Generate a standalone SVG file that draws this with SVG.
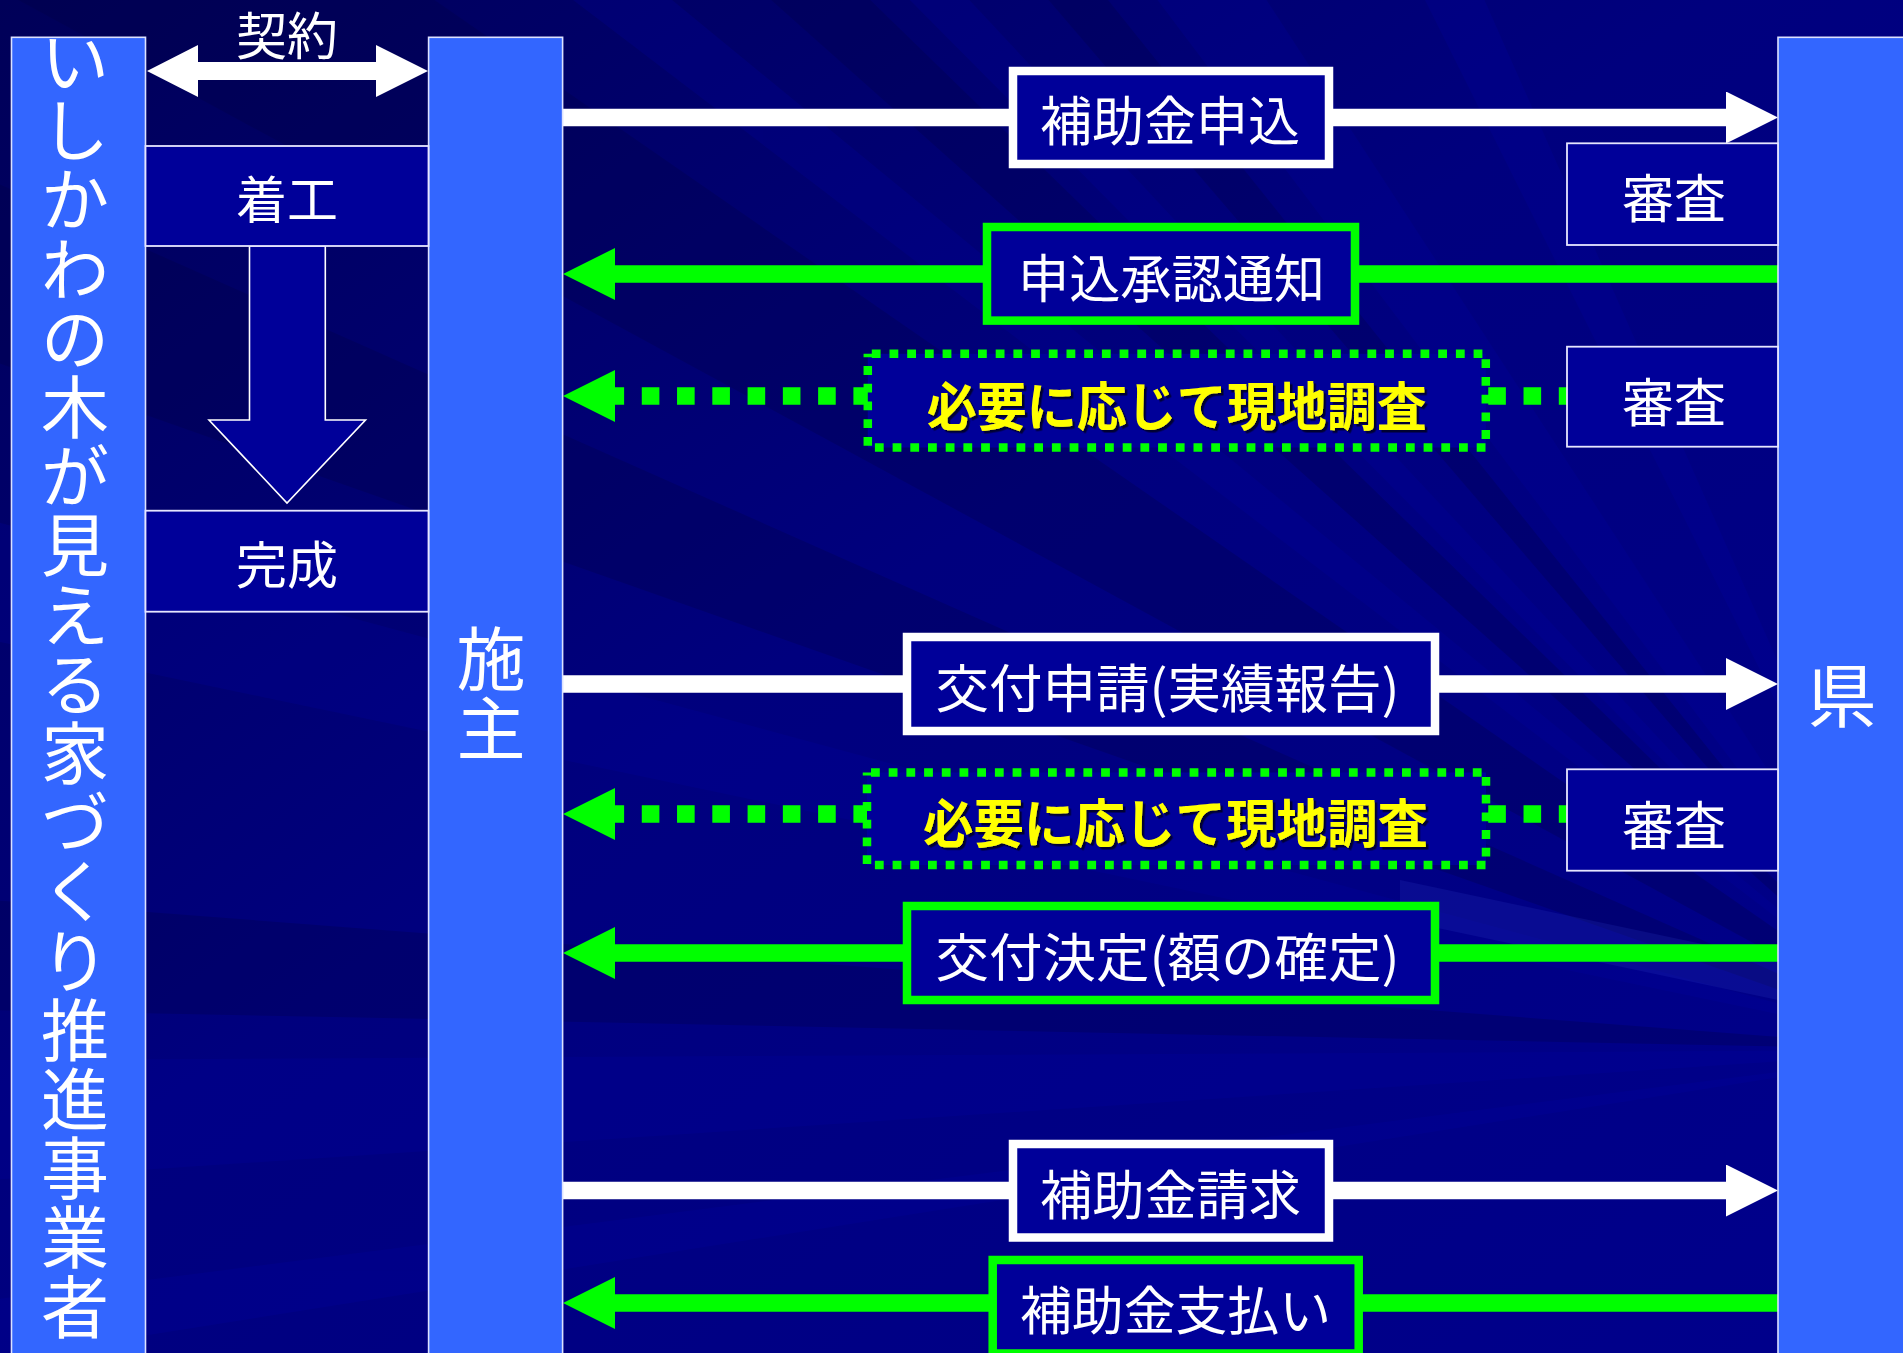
<svg xmlns="http://www.w3.org/2000/svg" width="1903" height="1353" viewBox="0 0 1903 1353">
<style>
.t{font-family:"Noto Sans CJK JP","Noto Sans",sans-serif;fill:#ffffff;text-anchor:middle}
.y{font-family:"Noto Sans CJK JP","Noto Sans",sans-serif;fill:#ffff00;font-weight:bold;text-anchor:middle;filter:url(#sh)}
.col{fill:#3366ff;stroke:#dce2ff;stroke-width:1.6}
.step{fill:#000099;stroke:#e6e6ff;stroke-width:1.8}
.lw{fill:#000099;stroke:#ffffff;stroke-width:8.5}
.lg{fill:#000099;stroke:#00ff00;stroke-width:8.5}
.ld{fill:#000099;stroke:#00ff00;stroke-width:8.5;stroke-dasharray:8.8 8.9}
.sw{stroke:#ffffff;stroke-width:17.5;fill:none}
.sg{stroke:#00ff00;stroke-width:17.5;fill:none}
.sd{stroke:#00ff00;stroke-width:17.7;fill:none;stroke-dasharray:17.6 17.67;stroke-dashoffset:9.4}
</style>
<defs>
<linearGradient id="bg" x1="0" y1="0" x2="1" y2="1">
<stop offset="0" stop-color="#000058"/>
<stop offset="0.45" stop-color="#00007e"/>
<stop offset="1" stop-color="#00008c"/>
</linearGradient>
<marker id="hw" markerUnits="userSpaceOnUse" viewBox="0 0 52 52" markerWidth="52" markerHeight="52" refX="0" refY="26" orient="auto"><path d="M0,0 L52,26 L0,52 Z" fill="#ffffff"/></marker>
<marker id="hg" markerUnits="userSpaceOnUse" viewBox="0 0 52 52" markerWidth="52" markerHeight="52" refX="0" refY="26" orient="auto"><path d="M0,0 L52,26 L0,52 Z" fill="#00ff00"/></marker>
<filter id="sh" x="-5%" y="-20%" width="110%" height="140%"><feDropShadow dx="2.5" dy="2.5" stdDeviation="0" flood-color="#000030" flood-opacity="1"/></filter>
</defs>

<g id="background">
<rect x="0" y="0" width="1903" height="1353" fill="url(#bg)"/>
<g fill="#0000a8" opacity="0.2">
<polygon points="1950,1050 560,-10 660,-10"/>
<polygon points="1950,1050 900,-10 960,-10"/>
<polygon points="1950,1050 1150,-10 1260,-10"/>
<polygon points="1950,1050 1420,-10 1480,-10"/>
<polygon points="1950,1050 -10,520 -10,640"/>
<polygon points="1950,1050 -10,1060 -10,1180"/>
<polygon points="1950,1050 -10,1300 -10,1360"/>
</g>
<g fill="#000040" opacity="0.25">
<polygon points="1950,1050 0,-10 420,-10"/>
<polygon points="1950,1050 760,-10 860,-10"/>
<polygon points="1950,1050 1040,-10 1100,-10"/>
<polygon points="1950,1050 -10,180 -10,360"/>
<polygon points="1950,1050 -10,900 -10,1010"/>
</g>
<polygon points="1400,880 1778,960 1778,1000 1400,920" fill="#3344cc" opacity="0.18"/>
</g>

<g id="connectors">
<polygon points="147,71 198,45 198,62 376,62 376,45 428,71 376,97 376,80 198,80 198,97" fill="#ffffff"/>
<line class="sw" x1="562.6" y1="117.5" x2="1726" y2="117.5" marker-end="url(#hw)"/>
<line class="sg" x1="1778" y1="274" x2="615" y2="274" marker-end="url(#hg)"/>
<line class="sd" x1="1567" y1="396" x2="615" y2="396" marker-end="url(#hg)"/>
<line class="sw" x1="562.6" y1="684" x2="1726" y2="684" marker-end="url(#hw)"/>
<line class="sd" x1="1567" y1="814" x2="615" y2="814" marker-end="url(#hg)"/>
<line class="sg" x1="1778" y1="953" x2="615" y2="953" marker-end="url(#hg)"/>
<line class="sw" x1="562.6" y1="1190.5" x2="1726" y2="1190.5" marker-end="url(#hw)"/>
<line class="sg" x1="1778" y1="1303" x2="615" y2="1303" marker-end="url(#hg)"/>
<polygon points="249.5,246 325.3,246 325.3,420 365.5,420 287,503 209,420 249.5,420" fill="#000099" stroke="#ffffff" stroke-width="1.6"/>
</g>

<g id="label-keiyaku"><text class="t" x="287" y="54.5" font-size="51">契約</text></g>

<g id="col-jigyosha">
<rect class="col" x="11.5" y="37.3" width="134" height="1330"/>
<text class="t" font-size="68" x="75 75 75 75 75 75 75 75 75 75 75 75 75 75 75 75 75 75 75" y="87 156.2 225.4 294.6 363.8 433 502.2 571.4 640.6 709.8 779 848.2 917.4 986.6 1055.8 1125 1194.2 1263.4 1332.6">いしかわの木が見える家づくり推進事業者</text>
</g>

<g id="col-seshu">
<rect class="col" x="428.6" y="37.3" width="134" height="1330"/>
<text class="t" font-size="69" x="491 491" y="685 755">施主</text>
</g>

<g id="col-ken">
<rect class="col" x="1778" y="37.3" width="140" height="1330"/>
<text class="t" x="1842" y="722" font-size="69">県</text>
</g>

<g id="step-chakko">
<rect class="step" x="145.5" y="146" width="283" height="100"/>
<text class="t" x="287" y="219.4" font-size="51">着工</text>
</g>

<g id="step-kansei">
<rect class="step" x="145.5" y="510.7" width="283" height="101"/>
<text class="t" x="287" y="584.4" font-size="51">完成</text>
</g>

<g id="shinsa-1">
<rect class="step" x="1567" y="143.3" width="211" height="101.7"/>
<text class="t" x="1674" y="218" font-size="52">審査</text>
</g>
<g id="shinsa-2">
<rect class="step" x="1567" y="346.7" width="211" height="100"/>
<text class="t" x="1674" y="421.5" font-size="52">審査</text>
</g>
<g id="shinsa-3">
<rect class="step" x="1567" y="769.3" width="211" height="101.4"/>
<text class="t" x="1674" y="845" font-size="52">審査</text>
</g>

<g id="lbl-moushikomi">
<rect class="lw" x="1013" y="71" width="316" height="93"/>
<text class="t" x="1170" y="141.3" font-size="53" textLength="260" lengthAdjust="spacingAndGlyphs">補助金申込</text>
</g>

<g id="lbl-shounin">
<rect class="lg" x="987" y="227" width="368" height="93.6"/>
<text class="t" x="1171.5" y="298" font-size="52" textLength="307" lengthAdjust="spacingAndGlyphs">申込承認通知</text>
</g>

<g id="lbl-genchi-1">
<rect class="ld" x="867.8" y="353.8" width="618" height="93.7" stroke-dashoffset="-4"/>
<text class="y" x="1176.7" y="426.4" font-size="52" textLength="500" lengthAdjust="spacingAndGlyphs">必要に応じて現地調査</text>
</g>

<g id="lbl-koufu-shinsei">
<rect class="lw" x="907" y="637" width="528" height="94"/>
<text class="t" x="1167.6" y="708" font-size="52" textLength="464" lengthAdjust="spacingAndGlyphs">交付申請(実績報告)</text>
</g>

<g id="lbl-genchi-2">
<rect class="ld" x="867" y="772.5" width="619" height="92.5" stroke-dashoffset="-4"/>
<text class="y" x="1175.5" y="843" font-size="52" textLength="505" lengthAdjust="spacingAndGlyphs">必要に応じて現地調査</text>
</g>

<g id="lbl-koufu-kettei">
<rect class="lg" x="907" y="906" width="528" height="94"/>
<text class="t" x="1167.6" y="977" font-size="52" textLength="464" lengthAdjust="spacingAndGlyphs">交付決定(額の確定)</text>
</g>

<g id="lbl-seikyu">
<rect class="lw" x="1013" y="1144" width="316" height="93.5"/>
<text class="t" x="1170.5" y="1214.6" font-size="53" textLength="261" lengthAdjust="spacingAndGlyphs">補助金請求</text>
</g>

<g id="lbl-shiharai">
<rect class="lg" x="992.7" y="1260" width="366" height="93.5"/>
<text class="t" x="1175.5" y="1330" font-size="52" textLength="311" lengthAdjust="spacingAndGlyphs">補助金支払い</text>
</g>
</svg>
